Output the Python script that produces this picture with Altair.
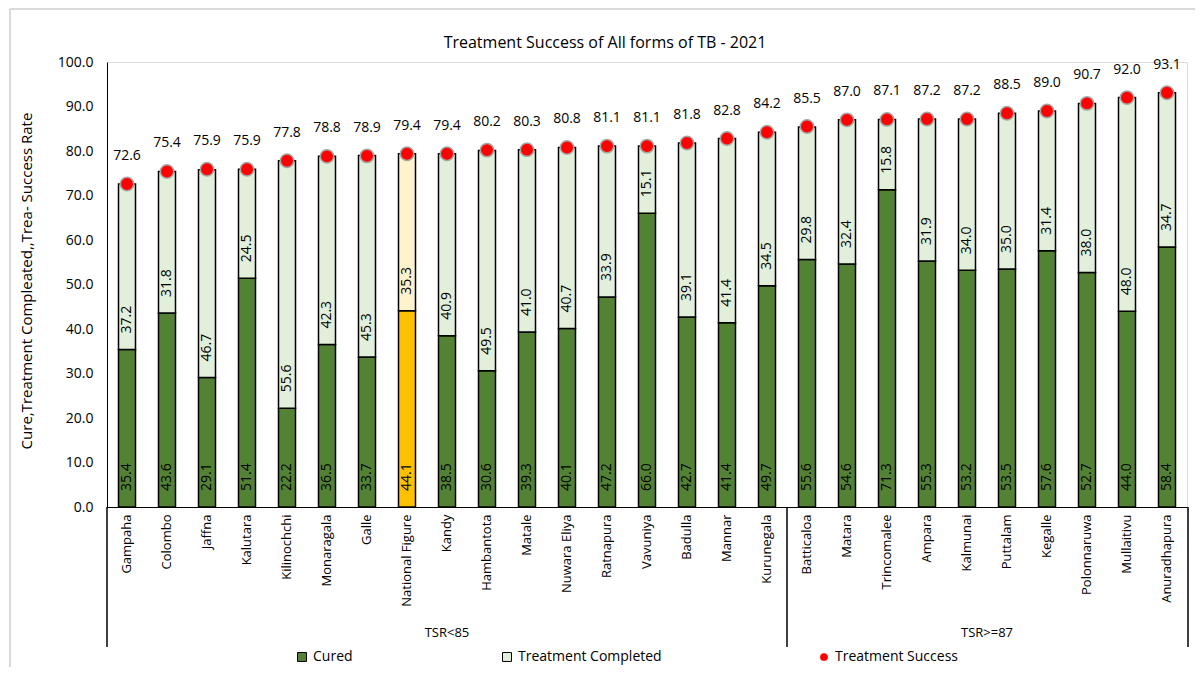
import altair as alt
import pandas as pd

districts = ["Gampaha", "Colombo", "Jaffna", "Kalutara", "Kilinochchi", "Monaragala", "Galle",
             "National Figure", "Kandy", "Hambantota", "Matale", "Nuwara Eliya", "Ratnapura",
             "Vavuniya", "Badulla", "Mannar", "Kurunegala", "Batticaloa", "Matara", "Trincomalee",
             "Ampara", "Kalmunai", "Puttalam", "Kegalle", "Polonnaruwa", "Mullaitivu", "Anuradhapura"]
cured = [35.4, 43.6, 29.1, 51.4, 22.2, 36.5, 33.7, 44.1, 38.5, 30.6, 39.3, 40.1, 47.2, 66.0,
         42.7, 41.4, 49.7, 55.6, 54.6, 71.3, 55.3, 53.2, 53.5, 57.6, 52.7, 44.0, 58.4]
completed = [37.2, 31.8, 46.7, 24.5, 55.6, 42.3, 45.3, 35.3, 40.9, 49.5, 41.0, 40.7, 33.9, 15.1,
             39.1, 41.4, 34.5, 29.8, 32.4, 15.8, 31.9, 34.0, 35.0, 31.4, 38.0, 48.0, 34.7]
success = [72.6, 75.4, 75.9, 75.9, 77.8, 78.8, 78.9, 79.4, 79.4, 80.2, 80.3, 80.8, 81.1, 81.1,
           81.8, 82.8, 84.2, 85.5, 87.0, 87.1, 87.2, 87.2, 88.5, 89.0, 90.7, 92.0, 93.1]
group_labels = ["TSR<85", "TSR>=87"]
group_anchor = ["Kandy", "Kalmunai"]
y_ticks = [0, 10, 20, 30, 40, 50, 60, 70, 80, 90, 100]

FONT = "Open Sans"
W, H = 1080, 445

rows = []
for d, c, t in zip(districts, cured, completed):
    nf = d == "National Figure"
    rows.append(dict(district=d, key="NF Cured" if nf else "Cured", y0=0.0, y1=c, val=c))
    rows.append(dict(district=d, key="NF Completed" if nf else "Treatment Completed",
                     y0=c, y1=round(c + t, 1), val=t))
bars_df = pd.DataFrame(rows)
succ_df = pd.DataFrame({"district": districts, "success": success,
                        "series": ["Treatment Success"] * len(districts)})

xenc = alt.X("district:N", sort=districts, title=None,
             scale=alt.Scale(paddingInner=0.575, paddingOuter=0.2875),
             axis=alt.Axis(labelAngle=270, labelAlign="right", labelBaseline="middle",
                           labelFont=FONT, labelFontSize=13, labelColor="black",
                           labelPadding=7, ticks=False, domainColor="black",
                           domainWidth=1, labelLimit=200))
yscale = alt.Scale(domain=[0, 100], nice=False)

bars = alt.Chart(bars_df).mark_bar(stroke="black", strokeWidth=1.5).encode(
    x=xenc,
    y=alt.Y("y0:Q", scale=yscale,
            title="Cure,Treatment Compleated,,Trea- Success Rate",
            axis=alt.Axis(values=y_ticks, format=".1f", ticks=False, grid=False,
                          domainColor="black", labelFont=FONT, labelFontSize=14,
                          labelColor="black", labelPadding=14, titleFont=FONT,
                          titleFontSize=15, titleFontWeight="normal", titleColor="black",
                          titleX=-73, titleY=H / 2 - 4)),
    y2="y1:Q",
    fill=alt.Fill("key:N",
                  scale=alt.Scale(domain=["Cured", "Treatment Completed", "NF Cured", "NF Completed"],
                                  range=["#548235", "#E2EFDA", "#FFC000", "#FFF2CC"]),
                  legend=alt.Legend(values=["Cured", "Treatment Completed"], title=None,
                                    orient="none", legendX=188, legendY=588,
                                    direction="horizontal", symbolType="square",
                                    symbolSize=80, symbolStrokeColor="black",
                                    symbolStrokeWidth=1, labelFont=FONT, labelFontSize=14,
                                    labelColor="black", columnPadding=147, padding=0)),
)

bar_labels = alt.Chart(bars_df).mark_text(angle=270, align="left", baseline="middle", dx=16,
                                          font=FONT, fontSize=14, color="black").encode(
    x=alt.X("district:N", sort=districts),
    y=alt.Y("y0:Q", scale=yscale),
    text=alt.Text("val:Q", format=".1f"),
)

dots = alt.Chart(succ_df).mark_point(filled=True, fill="red", stroke="#a6a6a6", strokeWidth=1.5,
                                     opacity=1, size=180).encode(
    x=alt.X("district:N", sort=districts),
    y=alt.Y("success:Q", scale=yscale),
    shape=alt.Shape("series:N", scale=alt.Scale(range=["circle"]),
                    legend=alt.Legend(title=None, orient="none", legendX=710, legendY=588,
                                      symbolSize=60, symbolFillColor="red",
                                      symbolStrokeColor="#a6a6a6", symbolStrokeWidth=1,
                                      labelFont=FONT, labelFontSize=14, labelColor="black",
                                      padding=0)),
)

dot_labels = alt.Chart(succ_df).mark_text(dy=-28, baseline="middle", font=FONT, fontSize=14,
                                          color="black").encode(
    x=alt.X("district:N", sort=districts),
    y=alt.Y("success:Q", scale=yscale),
    text=alt.Text("success:Q", format=".1f"),
)

g1 = alt.Chart(pd.DataFrame({"district": [group_anchor[0]], "label": [group_labels[0]]})).mark_text(
    font=FONT, fontSize=13, color="black", baseline="middle").encode(
    x=alt.X("district:N", sort=districts), y=alt.value(571), text="label:N")
g2 = alt.Chart(pd.DataFrame({"district": [group_anchor[1]], "label": [group_labels[1]]})).mark_text(
    font=FONT, fontSize=13, color="black", baseline="middle", dx=20).encode(
    x=alt.X("district:N", sort=districts), y=alt.value(571), text="label:N")

one = pd.DataFrame({"a": [0]})
seps = [alt.Chart(one).mark_rule(color="black", strokeWidth=1.5).encode(
    x=alt.value(xp), y=alt.value(H), y2=alt.value(585)) for xp in (0, 680, W + 1)]

# light grey chart-area frame (left and top edges)
frame_left = alt.Chart(one).mark_rule(color="#d9d9d9", strokeWidth=2).encode(
    x=alt.value(-97), y=alt.value(-53), y2=alt.value(615))
frame_top = alt.Chart(one).mark_rule(color="#d9d9d9", strokeWidth=2).encode(
    x=alt.value(-97), x2=alt.value(W + 10), y=alt.value(-53))

chart = alt.layer(frame_left, frame_top, bars, bar_labels, dots, dot_labels, g1, g2, *seps).properties(
    width=W, height=H,
    title=alt.TitleParams("Treatment Success of All forms of TB - 2021", font=FONT, fontSize=16,
                          fontWeight="normal", color="black", anchor="middle", dx=-42,
                          frame="group", offset=0, dy=43),
    autosize=alt.AutoSizeParams(type="none"),
    padding={"left": 99, "top": 54, "right": 8, "bottom": 160},
).resolve_scale(fill="independent", shape="independent").configure_view(stroke=None).configure(
    background="white")

chart.save("out.html", embed_options={"renderer": "svg", "actions": False})
